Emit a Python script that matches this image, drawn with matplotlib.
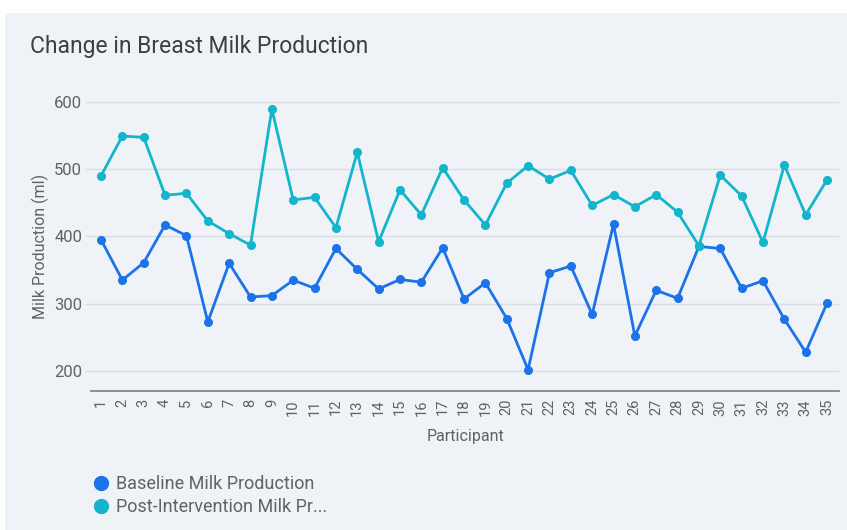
import matplotlib
matplotlib.use("Agg")
import matplotlib.pyplot as plt
from matplotlib.patches import Rectangle
from matplotlib.lines import Line2D

participants = [str(i) for i in range(1, 36)]
baseline = [395, 335, 361, 417, 401, 273, 360, 310, 312, 335,
            323, 382, 351, 322, 336, 332, 383, 307, 331, 278,
            202, 346, 356, 284, 418, 252, 320, 308, 385, 382,
            323, 334, 277, 228, 301]
post = [490, 549, 547, 461, 464, 423, 404, 387, 589, 454,
        458, 413, 525, 392, 469, 432, 502, 454, 417, 479,
        505, 485, 498, 446, 462, 444, 462, 436, 386, 491,
        460, 391, 506, 432, 484]
yticks = [200, 300, 400, 500, 600]
series_names = ["Baseline Milk Production", "Post-Intervention Milk Pr..."]

C_BASE = "#1a73e8"
C_POST = "#12b5cb"
BG = "#eff2f7"
GRID = "#d9dce0"
TXT = "#5f6368"

plt.rcParams['font.family'] = ['Roboto', 'DejaVu Sans']

W, H = 847, 530
fig = plt.figure(figsize=(W / 100, H / 100), dpi=100)
fig.patch.set_facecolor("white")
fig.patches.append(Rectangle((5 / W, 0), 1, 1 - 13 / H, transform=fig.transFigure,
                             facecolor=BG, edgecolor="none", zorder=-10))

x0, x1 = 91, 839
ytop, ybot = 101.7, 390.7
ax = fig.add_axes([x0 / W, 1 - ybot / H, (x1 - x0) / W, (ybot - ytop) / H])
ax.set_facecolor("none")

xs = list(range(1, len(participants) + 1))
ax.plot(xs, baseline, color=C_BASE, lw=2.0, marker="o", ms=5.5, clip_on=False, zorder=3)
ax.plot(xs, post, color=C_POST, lw=2.0, marker="o", ms=5.5, clip_on=False, zorder=3)

ax.set_xlim(0.53, 35.56)
ax.set_ylim(170.8, 600)
ax.set_yticks(yticks)
ax.set_yticklabels([str(v) for v in yticks])
ax.set_xticks(xs)
ax.set_xticklabels(participants, rotation=90)

ax.grid(axis="y", color=GRID, lw=1.0, zorder=0)
ax.grid(axis="x", visible=False)
for s in ["top", "right", "left"]:
    ax.spines[s].set_visible(False)
ax.spines["bottom"].set_color("#80868b")
ax.spines["bottom"].set_linewidth(1.3)

ax.tick_params(axis="y", length=4.3, width=1.0, color=GRID, labelsize=12,
               labelcolor=TXT, pad=2)
ax.tick_params(axis="x", length=0, labelsize=10.5, labelcolor=TXT, pad=6)

ax.set_xlabel("Participant", fontsize=11.5, color=TXT, labelpad=10)
ax.set_ylabel("Milk Production (ml)", fontsize=11.5, color=TXT, labelpad=4)

fig.text(30 / W, 1 - 46 / H, "Change in Breast Milk Production", fontsize=16.5,
         color="#3c4043", va="center", ha="left")

handles = [Line2D([], [], ls="none", marker="o", ms=10, color=C_BASE),
           Line2D([], [], ls="none", marker="o", ms=10, color=C_POST)]
leg = fig.legend(handles, series_names, loc="upper left",
                 bbox_to_anchor=(94 / W, 1 - 475 / H), frameon=False,
                 fontsize=13, handlelength=0.8, handletextpad=0.42,
                 labelspacing=0.28, borderpad=0, borderaxespad=0)
for t in leg.get_texts():
    t.set_color(TXT)

fig.savefig("out.png", dpi=100, facecolor=fig.get_facecolor())
